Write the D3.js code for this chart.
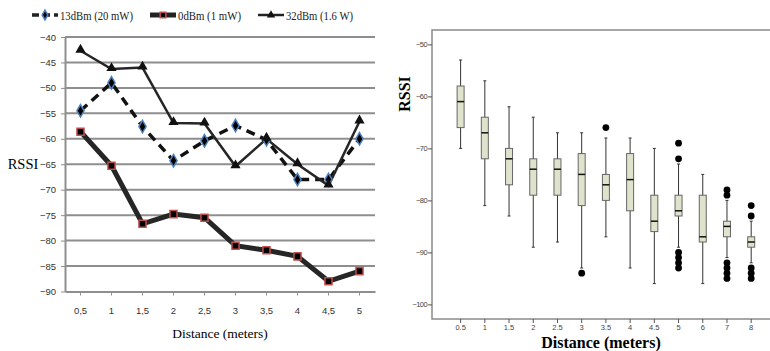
<!DOCTYPE html>
<html>
<head>
<meta charset="utf-8">
<script src="https://cdn.jsdelivr.net/npm/d3@7"></script>
<style>
  body { margin: 0; background: #fff; }
  svg { display: block; }
</style>
</head>
<body>
<svg id="chart" width="770" height="351"></svg>
<script>
// left chart: three transmit powers
var distances = ["0,5", "1", "1,5", "2", "2,5", "3", "3,5", "4", "4,5", "5"]
var dbm13 = [-54.5, -49, -57.6, -64.3, -60.4, -57.4, -60.2, -68, -68, -60]
var dbm0 = [-58.6, -65.3, -76.7, -74.8, -75.5, -81, -81.9, -83.1, -88, -86]
var dbm32 = [-42.7, -46.3, -46, -56.9, -57, -65.4, -60, -65, -69.2, -56.6]
var leftTicks = [-40, -45, -50, -55, -60, -65, -70, -75, -80, -85, -90]

// right chart: box plot per distance
var boxDist = ["0.5", "1", "1.5", "2", "2.5", "3", "3.5", "4", "4.5", "5", "6", "7", "8"]
var whiskerHi = [-53, -57, -62, -64, -67, -67, -68, -68, -70, -73, -75, -80, -84]
var q3 = [-58, -64, -70, -72, -72, -71, -75, -71, -79, -79, -79, -84, -87]
var medians = [-61, -67, -72, -74, -74, -75, -77, -76, -84, -82, -87, -85, -88]
var q1 = [-66, -72, -77, -79, -79, -81, -80, -82, -86, -83, -88, -87, -89]
var whiskerLo = [-70, -81, -83, -89, -88, -93, -87, -93, -96, -89, -96, -91, -92]
var outliers = [[], [], [], [], [], [-94], [-66], [], [], [-69, -72, -90, -91, -92, -93], [], [-78, -79, -92, -93, -94, -95], [-81, -83, -93, -94, -95]]
var rightTicks = [-50, -60, -70, -80, -90, -100]

var svg = d3.select("#chart")

// ---------- left chart ----------
var x = d3.scaleBand().domain(distances).range([65, 375])
var y = d3.scaleLinear().domain([-90, -40]).range([291.5, 37])

var left = svg.append("g")

left.append("g").selectAll("line")
  .data(leftTicks.slice(0, -1))
  .join("line")
    .attr("x1", 65).attr("x2", 375)
    .attr("y1", d => y(d)).attr("y2", d => y(d))
    .attr("stroke", "#8e8e8e").attr("stroke-width", 2)

var yAxis = left.append("g")
  .attr("transform", "translate(65,0)")
  .call(d3.axisLeft(y).tickValues(leftTicks).tickSize(4).tickSizeOuter(0).tickPadding(5))
yAxis.select(".domain").attr("stroke", "#8e8e8e").attr("stroke-width", 2)
yAxis.selectAll(".tick line").attr("stroke", "#8e8e8e")
yAxis.selectAll("text").attr("font-family", "Liberation Sans").attr("font-size", 9.5).attr("fill", "#333")

var xAxis = left.append("g")
  .attr("transform", "translate(0," + y(-90) + ")")
  .call(d3.axisBottom(x).tickSize(4).tickSizeOuter(0).tickPadding(12))
xAxis.select(".domain").attr("stroke", "#8e8e8e").attr("stroke-width", 2)
xAxis.selectAll(".tick line").attr("stroke", "#8e8e8e")
xAxis.selectAll("text").attr("font-family", "Liberation Sans").attr("font-size", 9.5).attr("fill", "#333")

var line = d3.line().x((d, i) => x(distances[i]) + x.bandwidth() / 2).y(d => y(d))

left.append("path").datum(dbm0)
  .attr("d", line).attr("fill", "none").attr("stroke", "#262626").attr("stroke-width", 5)
left.append("path").datum(dbm13)
  .attr("d", line).attr("fill", "none").attr("stroke", "#111").attr("stroke-width", 3.5)
  .attr("stroke-dasharray", "9,6")
left.append("path").datum(dbm32)
  .attr("d", line).attr("fill", "none").attr("stroke", "#262626").attr("stroke-width", 2.5)

var sq = d3.symbol().type(d3.symbolSquare).size(50)
var dia = d3.symbol().type(d3.symbolDiamond).size(45)
var tri = d3.symbol().type(d3.symbolTriangle).size(45)

left.append("g").selectAll("path").data(dbm0).join("path")
  .attr("d", sq)
  .attr("transform", (d, i) => "translate(" + (x(distances[i]) + x.bandwidth() / 2) + "," + y(d) + ")")
  .attr("fill", "#000").attr("stroke", "#c0504d").attr("stroke-width", 1.5)
left.append("g").selectAll("path").data(dbm13).join("path")
  .attr("d", dia)
  .attr("transform", (d, i) => "translate(" + (x(distances[i]) + x.bandwidth() / 2) + "," + y(d) + ")")
  .attr("fill", "#000").attr("stroke", "#4f81bd").attr("stroke-width", 1.5)
left.append("g").selectAll("path").data(dbm32).join("path")
  .attr("d", tri)
  .attr("transform", (d, i) => "translate(" + (x(distances[i]) + x.bandwidth() / 2) + "," + (y(d) - 1) + ")")
  .attr("fill", "#111")

left.append("text").attr("x", 23).attr("y", 169).attr("text-anchor", "middle")
  .attr("font-family", "Liberation Serif").attr("font-size", 14.5).text("RSSI")
left.append("text").attr("x", 220).attr("y", 338).attr("text-anchor", "middle")
  .attr("font-family", "Liberation Serif").attr("font-size", 13.5).text("Distance (meters)")

// legend (smaller markers than on the lines)
var legSq = d3.symbol().type(d3.symbolSquare).size(32)
var legDia = d3.symbol().type(d3.symbolDiamond).size(28)
var legTri = d3.symbol().type(d3.symbolTriangle).size(30)
var legend = [
  {name: "13dBm (20 mW)", x: 32, len: 73, sym: legDia, fill: "#000", stroke: "#4f81bd", w: 3.5, dash: "7,4"},
  {name: "0dBm (1 mW)", x: 150, len: 63, sym: legSq, fill: "#000", stroke: "#c0504d", w: 5, dash: null},
  {name: "32dBm (1.6 W)", x: 258, len: 67, sym: legTri, fill: "#111", stroke: "none", w: 2.5, dash: null}
]
var lg = left.append("g").selectAll("g").data(legend).join("g")
  .attr("transform", d => "translate(" + d.x + ",15)")
lg.append("line").attr("x1", 0).attr("x2", 26)
  .attr("stroke", "#222").attr("stroke-width", d => d.w)
  .attr("stroke-dasharray", d => d.dash)
lg.append("path").attr("d", d => d.sym()).attr("transform", "translate(13,0)")
  .attr("fill", d => d.fill).attr("stroke", d => d.stroke).attr("stroke-width", 1.5)
lg.append("text").attr("x", 28).attr("y", 4.5)
  .attr("font-family", "Liberation Serif").attr("font-size", 13).attr("fill", "#222")
  .attr("textLength", d => d.len).attr("lengthAdjust", "spacingAndGlyphs")
  .text(d => d.name)

// ---------- right chart ----------
var bx = d3.scaleBand().domain(boxDist).range([448.5, 763.3])
var by = d3.scaleLinear().domain([-100, -50]).range([304.4, 44.4])
var right = svg.append("g")

right.append("path")
  .attr("d", "M770," + 30 + "H432V319H770")
  .attr("fill", "none").attr("stroke", "#8a8a8a").attr("stroke-width", 1.5)

var ry = right.append("g").attr("transform", "translate(432,0)")
  .call(d3.axisLeft(by).tickValues(rightTicks).tickSize(4).tickPadding(1))
ry.select(".domain").remove()
ry.selectAll(".tick line").attr("stroke", "#555")
ry.selectAll("text").attr("font-family", "Liberation Sans").attr("font-size", 7.5).attr("fill", "#444")
  .attr("letter-spacing", -0.6)

var rx = right.append("g").attr("transform", "translate(0,319)")
  .call(d3.axisBottom(bx).tickSize(4).tickPadding(2))
rx.select(".domain").remove()
rx.selectAll(".tick line").attr("stroke", "#555")
rx.selectAll("text").attr("font-family", "Liberation Sans").attr("font-size", 7.5).attr("fill", "#444")

var boxes = right.append("g").selectAll("g").data(boxDist).join("g")
  .attr("transform", d => "translate(" + (bx(d) + bx.bandwidth() / 2) + ",0)")
boxes.append("line")
  .attr("y1", (d, i) => by(whiskerHi[i])).attr("y2", (d, i) => by(whiskerLo[i]))
  .attr("stroke", "#333").attr("stroke-width", 1)
boxes.append("line").attr("x1", -1.5).attr("x2", 1.5)
  .attr("y1", (d, i) => by(whiskerHi[i])).attr("y2", (d, i) => by(whiskerHi[i]))
  .attr("stroke", "#333")
boxes.append("line").attr("x1", -1.5).attr("x2", 1.5)
  .attr("y1", (d, i) => by(whiskerLo[i])).attr("y2", (d, i) => by(whiskerLo[i]))
  .attr("stroke", "#333")
boxes.append("rect").attr("x", -3.5).attr("width", 7)
  .attr("y", (d, i) => by(q3[i])).attr("height", (d, i) => by(q1[i]) - by(q3[i]))
  .attr("fill", "#dfe3cc").attr("stroke", "#666").attr("stroke-width", 1)
boxes.append("line").attr("x1", -3.5).attr("x2", 3.5)
  .attr("y1", (d, i) => by(medians[i])).attr("y2", (d, i) => by(medians[i]))
  .attr("stroke", "#111").attr("stroke-width", 1.5)
boxes.selectAll("circle").data((d, i) => outliers[i]).join("circle")
  .attr("cy", d => by(d)).attr("r", 3.4).attr("fill", "#000")

right.append("text")
  .attr("transform", "translate(410,94) rotate(-90)").attr("text-anchor", "middle")
  .attr("font-family", "Liberation Serif").attr("font-weight", "bold").attr("font-size", 16)
  .text("RSSI")
right.append("text").attr("x", 601).attr("y", 348).attr("text-anchor", "middle")
  .attr("font-family", "Liberation Serif").attr("font-weight", "bold").attr("font-size", 16)
  .text("Distance (meters)")
</script>
</body>
</html>
